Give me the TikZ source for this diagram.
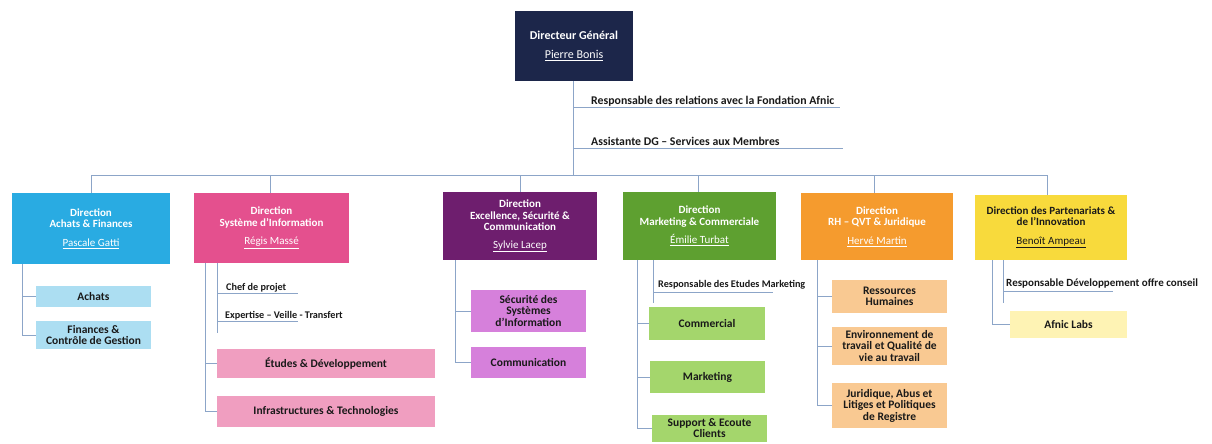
\documentclass[tikz,border=0pt]{standalone}
\usepackage{fontspec}
\setmainfont{Carlito}
\definecolor{navy}{RGB}{28,38,74}
\definecolor{cA}{RGB}{41,171,226}
\definecolor{cAs}{RGB}{172,222,242}
\definecolor{cB}{RGB}{228,80,142}
\definecolor{cBs}{RGB}{240,158,192}
\definecolor{cC}{RGB}{110,30,110}
\definecolor{cCs}{RGB}{214,128,219}
\definecolor{cD}{RGB}{94,160,48}
\definecolor{cDs}{RGB}{164,214,108}
\definecolor{cE}{RGB}{245,155,46}
\definecolor{cEs}{RGB}{249,201,146}
\definecolor{cF}{RGB}{248,218,60}
\definecolor{cFs}{RGB}{254,243,180}
\definecolor{linec}{RGB}{140,165,200}
\definecolor{txt}{RGB}{25,25,25}
\newcommand\pname[1]{{\mdseries\underline{#1}}}
\begin{document}
\begin{tikzpicture}[x=1pt,y=-1pt,
  conn/.style={draw=linec, line width=0.8pt},
  head/.style={rectangle, inner sep=0pt, align=center, text=white,
    font=\fontsize{11}{11.5}\selectfont\bfseries},
  sub/.style={rectangle, inner sep=0pt, align=center, text=txt,
    font=\fontsize{11.5}{11.5}\selectfont\bfseries},
  lab/.style={anchor=base west, inner sep=0pt, text=txt,
    font=\fontsize{11}{12}\selectfont\bfseries}]
\useasboundingbox (0,0) rectangle (1212,444);
% top
\node[head, fill=navy, minimum width=118, minimum height=70,
  font=\fontsize{12}{14}\selectfont\bfseries] (dg) at (574,46)
  {Directeur Général\\[5pt]\pname{Pierre Bonis}};
\coordinate (bus) at (573,175);
\node[lab, font=\fontsize{11.8}{12}\selectfont\bfseries] (r1) at (591,104) {Responsable des relations avec la Fondation Afnic};
\node[lab, font=\fontsize{11.8}{12}\selectfont\bfseries] (r2) at (591,145) {Assistante DG -- Services aux Membres};
\draw[conn] (573,81) -- (bus);
\draw[conn] (573,107) -- (840,107);
\draw[conn] (573,148) -- (843,148);
% directions
\node[head, fill=cA, minimum width=158, minimum height=71] (b1) at (91,228.5)
  {Direction\\Achats \& Finances\\[7pt]\pname{Pascale Gatti}};
\node[head, fill=cB, minimum width=155, minimum height=70] (b2) at (271.5,228)
  {Direction\\Système d’Information\\[7pt]\pname{Régis Massé}};
\node[head, fill=cC, minimum width=154, minimum height=68] (b3) at (520,226)
  {Direction\\Excellence, Sécurité \&\\Communication\\[6pt]\pname{Sylvie Lacep}};
\node[head, fill=cD, minimum width=153, minimum height=68] (b4) at (699.5,226)
  {Direction\\Marketing \& Commerciale\\[7pt]\pname{Émilie Turbat}};
\node[head, fill=cE, minimum width=152, minimum height=67] (b5) at (877,226.5)
  {Direction\\RH -- QVT \& Juridique\\[7pt]\pname{Hervé Martin}};
\node[head, fill=cF, minimum width=152, minimum height=65, text=txt] (b6) at (1051,227.5)
  {Direction des Partenariats \&\\de l’Innovation\\[7pt]\pname{Benoît Ampeau}};
\draw[conn] (91,193) -- (91,175) -- (1047,175) -- (1047,195);
\draw[conn] (270,175) -- (270,193);
\draw[conn] (520,175) -- (520,192);
\draw[conn] (698,175) -- (698,192);
\draw[conn] (874,175) -- (874,193);
% branch 1
\node[sub, fill=cAs, minimum width=115, minimum height=21] (s1a) at (93.5,296.5) {Achats};
\node[sub, fill=cAs, minimum width=115, minimum height=28] (s1b) at (93.5,335) {Finances \&\\Contrôle de Gestion};
\draw[conn] (22,264) |- (s1b.west);
\draw[conn] (22,296.5) -- (s1a.west);
% branch 2
\node[lab, font=\fontsize{10.2}{11}\selectfont\bfseries] (l2a) at (226,290) {Chef de projet};
\node[lab, font=\fontsize{10.2}{11}\selectfont\bfseries] (l2b) at (225,318) {Expertise -- Veille - Transfert};
\node[sub, fill=cBs, minimum width=218, minimum height=29] (s2a) at (326,363.5) {Études \& Développement};
\node[sub, fill=cBs, minimum width=218, minimum height=31] (s2b) at (326,411.5) {Infrastructures \& Technologies};
\draw[conn] (217,263) -- (217,333);
\draw[conn] (217,293) -- (298,293);
\draw[conn] (217,321) -- (298,321);
\draw[conn] (205,263) |- (s2b.west);
\draw[conn] (205,363.5) -- (s2a.west);
% branch 3
\node[sub, fill=cCs, minimum width=115, minimum height=42] (s3a) at (528.5,311) {Sécurité des\\Systèmes\\d’Information};
\node[sub, fill=cCs, minimum width=115, minimum height=31] (s3b) at (528.5,362) {Communication};
\draw[conn] (455,260) |- (s3b.west);
\draw[conn] (455,311) -- (s3a.west);
% branch 4
\node[lab, font=\fontsize{10.2}{11}\selectfont\bfseries] (l4) at (658,287) {Responsable des Etudes Marketing};
\node[sub, fill=cDs, minimum width=116, minimum height=33] (s4a) at (707,323.5) {Commercial};
\node[sub, fill=cDs, minimum width=115, minimum height=32] (s4b) at (707.5,377) {Marketing};
\node[sub, fill=cDs, minimum width=115, minimum height=27] (s4c) at (709.5,428) {Support \& Ecoute\\Clients};
\draw[conn] (653,260) -- (653,303);
\draw[conn] (653,292) -- (773,292);
\draw[conn] (637,260) |- (s4c.west);
\draw[conn] (637,323.5) -- (s4a.west);
\draw[conn] (637,377) -- (s4b.west);
% branch 5
\node[sub, fill=cEs, minimum width=115, minimum height=33] (s5a) at (889.5,296.5) {Ressources\\Humaines};
\node[sub, fill=cEs, minimum width=115, minimum height=38] (s5b) at (889.5,346) {Environnement de\\travail et Qualité de\\vie au travail};
\node[sub, fill=cEs, minimum width=115, minimum height=45] (s5c) at (889.5,405.5) {Juridique, Abus et\\Litiges et Politiques\\de Registre};
\draw[conn] (817,260) |- (s5c.west);
\draw[conn] (817,296.5) -- (s5a.west);
\draw[conn] (817,346) -- (s5b.west);
% branch 6
\node[lab] (l6) at (1006,286) {Responsable Développement offre conseil};
\node[sub, fill=cFs, minimum width=117, minimum height=27] (s6a) at (1068.5,324.5) {Afnic Labs};
\draw[conn] (1003,260) -- (1003,303);
\draw[conn] (1003,291) -- (1113,291);
\draw[conn] (992,260) |- (s6a.west);
\end{tikzpicture}
\end{document}
